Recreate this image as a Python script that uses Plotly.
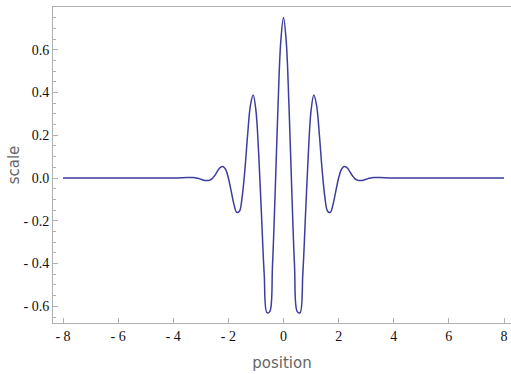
import plotly.graph_objects as go

pos = [-8.0, -6.0, -4.0,
       -3.5, -3.4, -3.3, -3.2, -3.1, -3.0, -2.9, -2.8, -2.7, -2.6, -2.5, -2.4, -2.3, -2.2, -2.1, -2.0,
       -1.9, -1.8, -1.7, -1.6, -1.5, -1.4, -1.3, -1.2, -1.1, -1.0, -0.9, -0.8, -0.7, -0.6, -0.5,
       -0.4, -0.3, -0.2, -0.1, 0.0,
       0.1, 0.2, 0.3, 0.4, 0.5, 0.6, 0.7, 0.8, 0.9, 1.0, 1.1, 1.2, 1.3, 1.4, 1.5, 1.6, 1.7, 1.8, 1.9,
       2.0, 2.1, 2.2, 2.3, 2.4, 2.5, 2.6, 2.7, 2.8, 2.9, 3.0, 3.1, 3.2, 3.3, 3.4, 3.5,
       4.0, 6.0, 8.0]
scale = [0.0, 0.0, 0.0,
         0.002, 0.002, 0.002, 0.001, -0.001, -0.006, -0.010, -0.012, -0.011, -0.004, 0.011, 0.031, 0.049, 0.054, 0.040, 0.000,
         -0.060, -0.122, -0.160, -0.155, -0.088, 0.040, 0.205, 0.340, 0.388, 0.315, 0.112, -0.168, -0.450, -0.630, -0.625,
         -0.410, -0.057, 0.334, 0.637, 0.751,
         0.637, 0.334, -0.057, -0.410, -0.625, -0.630, -0.450, -0.168, 0.112, 0.315, 0.388, 0.340, 0.205, 0.040, -0.088, -0.155, -0.160, -0.122, -0.060,
         0.000, 0.040, 0.054, 0.049, 0.031, 0.011, -0.004, -0.011, -0.012, -0.010, -0.006, -0.001, 0.001, 0.002, 0.002, 0.002,
         0.0, 0.0, 0.0]

x_ticks = [-8, -6, -4, -2, 0, 2, 4, 6, 8]
x_labels = ["- 8", "- 6", "- 4", "- 2", "0", "2", "4", "6", "8"]
y_ticks = [-0.6, -0.4, -0.2, 0.0, 0.2, 0.4, 0.6]
y_labels = ["- 0.6", "- 0.4", "- 0.2", "0.0", "0.2", "0.4", "0.6"]

fig = go.Figure()
fig.add_trace(go.Scatter(
    x=pos, y=scale, mode="lines",
    line=dict(color="#3d3d9e", width=1.5, shape="spline", smoothing=1.0),
    hoverinfo="skip", showlegend=False))

axis_color = "#b0b0b0"
tick_font = dict(family="Liberation Serif", size=14, color="#111111")
title_font = dict(family="DejaVu Sans", size=15, color="#666666")

fig.update_layout(
    width=511, height=374,
    margin=dict(l=53, r=0, t=7, b=51),
    paper_bgcolor="white", plot_bgcolor="white",
    xaxis=dict(
        range=[-8.363, 8.254], showgrid=False, zeroline=False, automargin=False,
        showline=True, linecolor=axis_color, linewidth=1, mirror=True,
        tickmode="array", tickvals=x_ticks, ticktext=x_labels,
        ticks="inside", ticklen=5, tickcolor=axis_color, tickfont=tick_font,
        title=dict(text="position", font=title_font, standoff=14),
    ),
    yaxis=dict(
        range=[-0.678, 0.80], showgrid=False, zeroline=False, automargin=False,
        showline=True, linecolor=axis_color, linewidth=1,
        tickmode="array", tickvals=y_ticks, ticktext=y_labels,
        ticks="inside", ticklen=5, tickcolor=axis_color, tickfont=tick_font,
        minor=dict(dtick=0.05, tick0=0, ticks="inside", ticklen=3, tickcolor=axis_color, showgrid=False),
        title=dict(text="scale", font=title_font, standoff=0),
    ),
)

fig.write_html("out.html", config={"displayModeBar": False},
               post_script="document.body.style.margin='0';document.body.style.overflow='hidden';")
